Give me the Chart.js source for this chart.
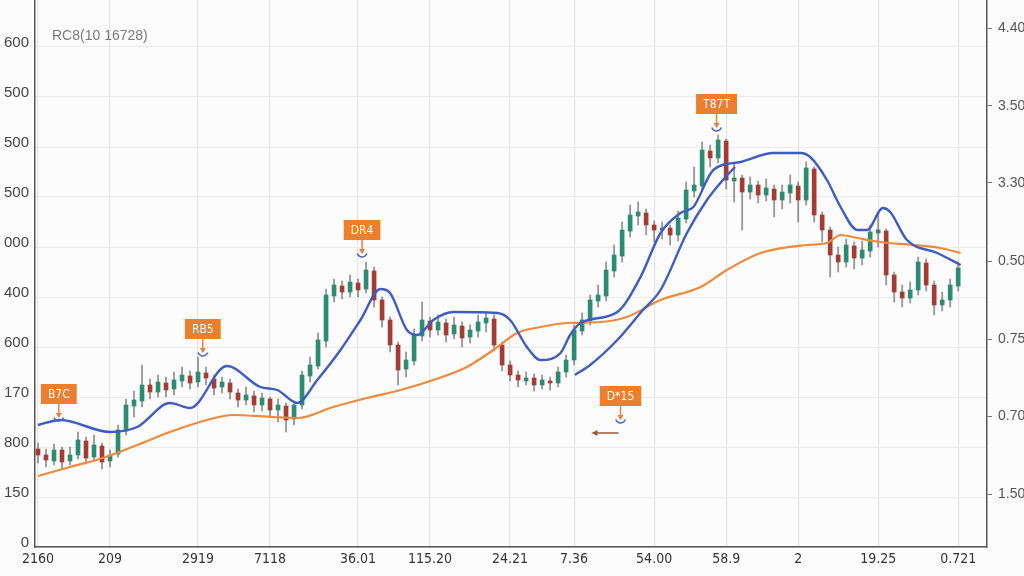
<!DOCTYPE html>
<html>
<head>
<meta charset="utf-8">
<script src="https://cdn.jsdelivr.net/npm/chart.js@4.4.1/dist/chart.umd.min.js"></script>
<style>
  html, body { margin: 0; padding: 0; background: #fcfcfc; }
  #wrap { width: 1024px; height: 576px; position: relative; }
</style>
</head>
<body>
<div id="wrap"><canvas id="chart"></canvas></div>
<script>
// candle values, one entry per candle
const openVals = [
  98, 92, 86, 97, 86, 92, 106, 90, 101, 86,
  93, 116, 141, 146, 162, 155, 164, 158, 166, 171,
  165, 174, 168, 160, 164, 154, 147, 151, 142, 148,
  137, 141, 128, 142, 171, 181, 206, 251, 261, 255,
  264, 258, 276, 247, 227, 202, 178, 186, 211, 226,
  217, 224, 213, 221, 210, 216, 224, 228, 202, 182,
  172, 166, 169, 162, 166, 164, 175, 187, 216, 226,
  246, 251, 276, 291, 316, 331, 334, 322, 317, 319,
  312, 328, 356, 361, 396, 389, 406, 366, 369, 355,
  362, 352, 358, 347, 354, 361, 347, 378, 332, 317,
  292, 285, 301, 289, 296, 314, 316, 272, 255, 249,
  257, 284, 262, 242, 247, 261
];
const closeVals = [
  92, 87, 97, 85, 92, 107, 89, 102, 85, 92,
  117, 142, 147, 162, 155, 165, 157, 167, 172, 164,
  175, 169, 159, 165, 155, 147, 152, 142, 149, 137,
  142, 127, 142, 172, 182, 207, 252, 262, 255, 265,
  257, 277, 247, 227, 202, 177, 187, 212, 227, 217,
  225, 212, 222, 209, 217, 225, 229, 202, 182, 172,
  167, 169, 162, 167, 164, 175, 187, 217, 227, 247,
  252, 277, 292, 317, 332, 335, 322, 317, 319, 312,
  329, 357, 362, 397, 389, 407, 367, 369, 355, 362,
  352, 359, 347, 355, 362, 347, 379, 332, 317, 292,
  285, 302, 289, 297, 315, 317, 272, 255, 249, 257,
  285, 262, 242, 247, 262, 279
];
const highVals = [
  104, 98, 103, 100, 100, 115, 110, 112, 104, 97,
  122, 148, 156, 182, 168, 172, 170, 175, 180, 176,
  190, 180, 172, 170, 168, 158, 160, 156, 154, 150,
  148, 144, 146, 176, 190, 214, 258, 268, 266, 272,
  268, 285, 280, 250, 230, 205, 195, 218, 245, 230,
  232, 228, 230, 225, 222, 232, 235, 232, 205, 186,
  176, 175, 173, 172, 170, 180, 192, 222, 234, 252,
  262, 285, 302, 325, 342, 345, 338, 326, 325, 322,
  336, 365, 380, 405, 402, 412, 408, 385, 372, 370,
  366, 368, 362, 362, 372, 365, 385, 380, 335, 320,
  300, 308, 305, 306, 322, 334, 318, 275, 262, 265,
  290, 288, 266, 255, 268, 285
];
const lowVals = [
  84, 80, 82, 78, 82, 88, 83, 86, 78, 80,
  90, 112, 130, 140, 148, 150, 150, 152, 160, 158,
  160, 162, 152, 154, 148, 140, 142, 135, 136, 130,
  125, 115, 122, 138, 165, 178, 200, 245, 248, 250,
  250, 254, 240, 220, 195, 162, 170, 182, 206, 210,
  212, 205, 208, 200, 204, 210, 215, 196, 176, 166,
  160, 162, 156, 158, 157, 160, 170, 182, 212, 222,
  240, 246, 270, 285, 310, 322, 312, 305, 308, 302,
  306, 324, 350, 356, 380, 384, 358, 345, 317, 348,
  344, 346, 330, 338, 344, 325, 342, 325, 305, 270,
  275, 280, 278, 282, 290, 300, 262, 245, 240, 244,
  252, 256, 232, 236, 240, 256
];

// fast average (blue), read at candle positions
const fastAt = [0, 2.8, 9, 12.4, 16.5, 19, 23.6, 27.8, 29.9, 32.4,
  34.9, 37.8, 40.3, 42.8, 44, 46.1, 47.4, 49.4, 51.9, 57.4,
  59, 61.1, 62.8, 65.3, 66.5, 67.8, 72.4, 75.3, 77.8, 80.3,
  81.9, 84.4, 87.8, 91.9, 95.3, 96.5, 98.6, 100.3, 102.4, 103.6,
  105.6, 106.5, 108.6, 112.4, 115.3];
const fastVals = [122, 127, 115, 120, 144, 139, 181, 160, 157, 144,
  167, 197, 227, 258, 254, 217, 212, 227, 235, 234,
  227, 200, 187, 194, 212, 224, 235, 270, 314, 334,
  340, 377, 385, 394, 394, 390, 367, 340, 317, 317,
  339, 335, 307, 294, 282];

// second blue line in the rally
const trendAt = [67.1, 69, 72.4, 75.6, 77.8, 81.1, 83.6, 85.6, 87.1];
const trendVals = [172, 182, 207, 237, 257, 314, 347, 367, 380];

// slow average (orange)
const slowAt = [0, 4, 8.1, 12.4, 16.5, 21.1, 24.4, 29.4, 32.4, 36.9,
  41.1, 45.3, 49.4, 53.6, 56.9, 59.9, 62.8, 66.1, 70.3, 73.6,
  77.8, 82.8, 86.1, 90.3, 96.1, 98.6, 100.3, 102.4, 105.3, 109.4,
  112.8, 115.3];
const slowVals = [71, 80, 89, 102, 115, 127, 132, 130, 129, 140,
  149, 157, 167, 180, 197, 214, 220, 224, 225, 230,
  247, 260, 277, 294, 302, 304, 312, 309, 305, 302,
  299, 294];

// axis ticks
const xTickAt = [0, 9, 20, 29, 40, 49, 59, 67, 77, 86, 95, 105, 115];
const xTickText = ['2160', '209', '2919', '7118', '36.01', '115.20', '24.21', '7.36', '54.00', '58.9', '2', '19.25', '0.721'];
const leftTickVals = [0, 50, 100, 150, 200, 250, 300, 350, 400, 450, 500];
const leftTickText = ['0', '150', '800', '170', '600', '400', '000', '500', '500', '500', '600'];
const rightTickVals = [53, 131, 208, 286, 364, 441, 519];
const rightTickText = ['1.50', '0.70', '0.75', '0.50', '3.30', '3.50', '4.40'];

// callouts
const noteText = ['B7C', 'RB5', 'DR4', 'T87T', 'D*15'];
const noteAt = [2.6, 20.6, 40.5, 84.8, 72.8];
const noteVal = [127, 192, 291, 417, 125];
const panelTitle = 'RC8(10 16728)';

const narrow = '"Liberation Sans Narrow", "DejaVu Sans Condensed", "Liberation Sans", sans-serif';
const UP = '#2b8c70', DOWN = '#a43c33';

const wicks = highVals.map((h, i) => ({ x: i, y: [lowVals[i], h] }));
const bodies = openVals.map((o, i) => ({ x: i, y: [o, closeVals[i]] }));
const bodyColors = openVals.map((o, i) => closeVals[i] >= o ? UP : DOWN);
const pairs = (xs, ys) => xs.map((x, i) => ({ x, y: ys[i] }));

const notePlugin = {
  id: 'notes',
  afterDatasetsDraw(chart) {
    const { ctx, chartArea, scales } = chart;
    ctx.save();
    ctx.font = '14px "Liberation Sans", sans-serif';
    ctx.fillStyle = '#7a7a7a';
    ctx.textBaseline = 'middle';
    ctx.textAlign = 'left';
    ctx.fillText(panelTitle, chartArea.left + 17, 36);

    noteText.forEach((t, k) => {
      const px = scales.x.getPixelForValue(noteAt[k]);
      const py = scales.y.getPixelForValue(noteVal[k]);
      ctx.font = '12px ' + narrow;
      const w = ctx.measureText(t).width + 14, h = 20;
      const cy = py - 26;
      // stem + arrowhead
      ctx.strokeStyle = '#e8803a';
      ctx.lineWidth = 1.5;
      ctx.beginPath();
      ctx.moveTo(px, cy + h / 2);
      ctx.lineTo(px, py - 3);
      ctx.stroke();
      ctx.fillStyle = '#e8803a';
      ctx.beginPath();
      ctx.moveTo(px - 3, py - 7);
      ctx.lineTo(px + 3, py - 7);
      ctx.lineTo(px, py - 2);
      ctx.fill();
      // blue cup under the tip
      ctx.strokeStyle = '#4a64c8';
      ctx.lineWidth = 1.5;
      ctx.beginPath();
      ctx.arc(px, py - 4, 5, 0.1 * Math.PI, 0.9 * Math.PI);
      ctx.stroke();
      // box
      ctx.fillStyle = '#ec7f2e';
      ctx.fillRect(px - w / 2, cy - h / 2, w, h);
      ctx.fillStyle = '#ffffff';
      ctx.textAlign = 'center';
      ctx.fillText(t, px, cy + 1);
      if (t === 'D*15') {
        ctx.strokeStyle = '#9a5a3a';
        ctx.lineWidth = 1.5;
        ctx.beginPath();
        ctx.moveTo(px - 2, py + 11);
        ctx.lineTo(px - 27, py + 11);
        ctx.stroke();
        ctx.fillStyle = '#9a5a3a';
        ctx.beginPath();
        ctx.moveTo(px - 29, py + 11);
        ctx.lineTo(px - 23, py + 8);
        ctx.lineTo(px - 23, py + 14);
        ctx.fill();
      }
    });
    ctx.restore();
  }
};

new Chart(document.getElementById('chart'), {
  type: 'bar',
  data: {
    datasets: [
      {
        type: 'line', label: 'fast', data: pairs(fastAt, fastVals), order: 0,
        borderColor: '#3f5bc4', borderWidth: 2.4, pointRadius: 0,
        cubicInterpolationMode: 'monotone', fill: false
      },
      {
        type: 'line', label: 'trend', data: pairs(trendAt, trendVals), order: 0,
        borderColor: '#3f5bc4', borderWidth: 2.4, pointRadius: 0,
        cubicInterpolationMode: 'monotone', fill: false
      },
      {
        type: 'line', label: 'slow', data: pairs(slowAt, slowVals), order: 0,
        borderColor: '#ee8a3c', borderWidth: 2.2, pointRadius: 0,
        cubicInterpolationMode: 'monotone', fill: false
      },
      {
        label: 'body', data: bodies, order: 1, grouped: false,
        backgroundColor: bodyColors, barThickness: 4, minBarLength: 1.5, borderWidth: 0
      },
      {
        label: 'wick', data: wicks, order: 2, grouped: false,
        backgroundColor: 'rgba(110,110,110,0.7)', barThickness: 1.2, borderWidth: 0
      }
    ]
  },
  options: {
    responsive: true,
    maintainAspectRatio: false,
    animation: false,
    layout: { padding: 0 },
    plugins: { legend: { display: false }, tooltip: { enabled: false } },
    scales: {
      x: {
        type: 'linear', min: -0.375, max: 118.6, offset: false,
        afterBuildTicks: s => { s.ticks = xTickAt.map(v => ({ value: v })); },
        afterFit: s => { s.height = 29; s.paddingLeft = 0; s.paddingRight = 0; },
        ticks: {
          callback: (v, i) => xTickText[i], autoSkip: false, maxRotation: 0, padding: 4,
          color: '#333', font: { size: 14, family: narrow }
        },
        grid: { color: '#e4e4e4', lineWidth: 1.2, drawTicks: false, offset: false },
        border: { color: '#555', width: 1.5 }
      },
      y: {
        position: 'left', min: 0, max: 547,
        afterBuildTicks: s => { s.ticks = leftTickVals.map(v => ({ value: v })); },
        afterFit: s => { s.width = 35; s.paddingTop = 0; s.paddingBottom = 0; },
        ticks: {
          callback: (v, i) => leftTickText[i], autoSkip: false, labelOffset: -4, padding: 6,
          color: '#444', font: { size: 15, family: '"Liberation Sans", sans-serif' }
        },
        grid: { color: '#ececec', drawTicks: false },
        border: { color: '#555', width: 1.5 }
      },
      y2: {
        position: 'right', min: 0, max: 547,
        afterBuildTicks: s => { s.ticks = rightTickVals.map(v => ({ value: v })); },
        afterFit: s => { s.width = 37; s.paddingTop = 0; s.paddingBottom = 0; },
        ticks: {
          callback: (v, i) => rightTickText[i], autoSkip: false, padding: 6,
          color: '#555', font: { size: 14, family: '"Liberation Sans", sans-serif' }
        },
        grid: { drawOnChartArea: false, tickLength: 5, color: '#777' },
        border: { color: '#555', width: 1.5 }
      }
    }
  },
  plugins: [notePlugin]
});
</script>
</body>
</html>
